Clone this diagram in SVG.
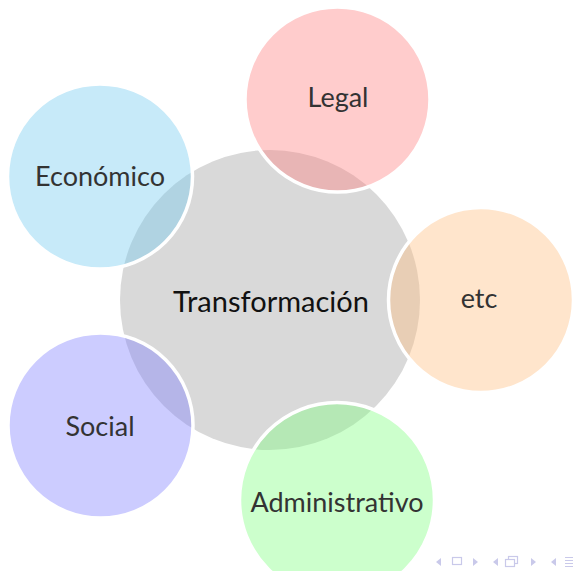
<svg xmlns="http://www.w3.org/2000/svg" width="573" height="571" viewBox="0 0 573 571">
<style>
.sat{stroke:#fff;stroke-width:3.5}
.lbl{font-family:Lato,"Noto Sans",sans-serif;font-size:27px;fill:#333;text-anchor:middle}
.nav{fill:#c9c9ea}
.navs{fill:none;stroke:#c9c9ea;stroke-width:1.2}
</style>
<rect width="573" height="571" fill="#fff"/>
<g id="center">
<circle cx="270" cy="300" r="150" fill="#d9d9d9"/>
<text x="271" y="312" class="lbl" style="font-size:29px;fill:#111">Transformación</text>
</g>
<g id="connectors"></g>
<g id="legal">
<circle class="sat" cx="337.5" cy="99.5" r="92.5" fill="rgb(255,127,127)" fill-opacity="0.4"/>
<text x="338" y="107" class="lbl">Legal</text>
</g>
<g id="economico">
<circle class="sat" cx="100" cy="176.5" r="92.5" fill="rgb(115,202,240)" fill-opacity="0.4"/>
<text x="100" y="186" class="lbl">Económico</text>
</g>
<g id="etc">
<circle class="sat" cx="481" cy="300" r="92.5" fill="rgb(255,191,127)" fill-opacity="0.4"/>
<text x="479" y="308" class="lbl">etc</text>
</g>
<g id="social">
<circle class="sat" cx="100.5" cy="425.5" r="92.5" fill="rgb(127,127,255)" fill-opacity="0.4"/>
<text x="100" y="436" class="lbl">Social</text>
</g>
<g id="administrativo">
<circle class="sat" cx="337" cy="500" r="97.5" fill="rgb(127,255,127)" fill-opacity="0.4"/>
<text x="337" y="512" class="lbl">Administrativo</text>
</g>
<g id="navigation">
<polygon class="nav" points="441,558 441,566 436,562"/>
<rect class="navs" x="452.5" y="557.5" width="9" height="7"/>
<polygon class="nav" points="473,558 473,566 478,562"/>
<polygon class="nav" points="498,558 498,566 493,562"/>
<rect class="navs" x="508.5" y="556.5" width="9" height="7"/>
<rect x="505.5" y="559.5" width="9" height="7" fill="#fff" stroke="#c9c9ea" stroke-width="1.2"/>
<polygon class="nav" points="531,558 531,566 536,562"/>
<polygon class="nav" points="556,558 556,566 551,562"/>
<path class="navs" d="M565 557.5H573M565 560.5H573M565 563.5H573M565 566.5H573"/>
</g>
</svg>
